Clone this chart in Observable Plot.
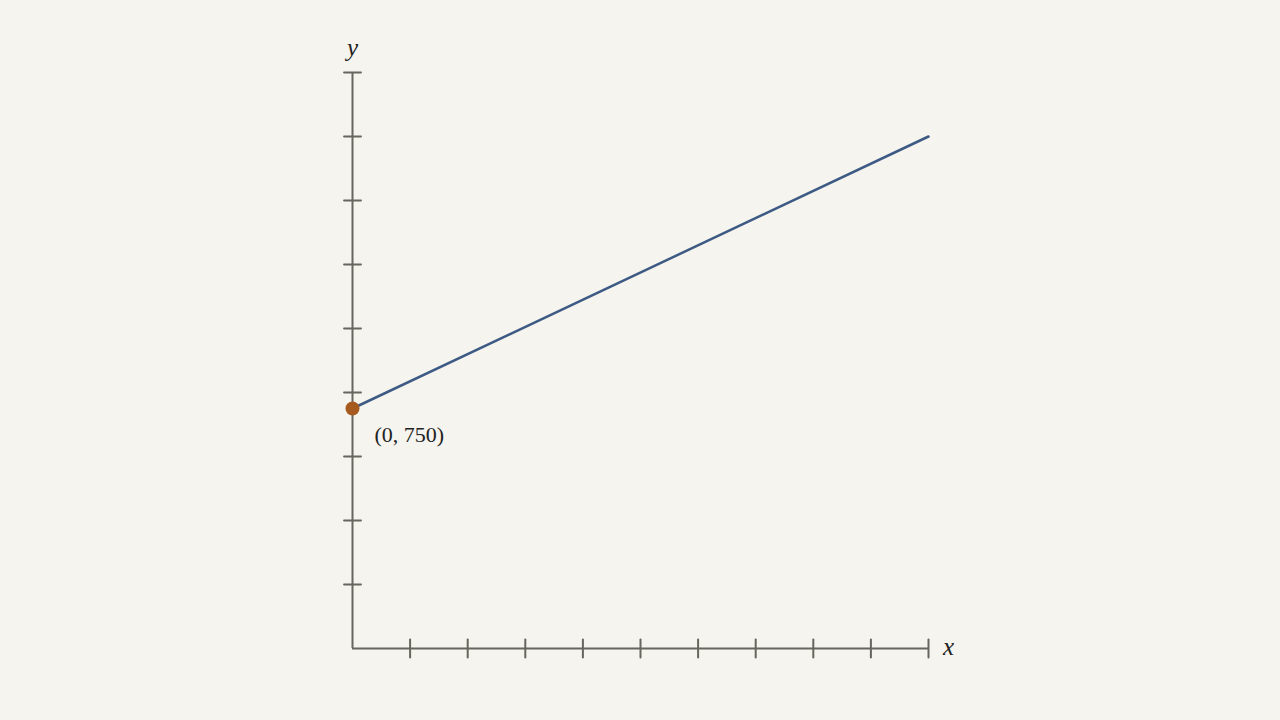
<!DOCTYPE html>
<html>
<head>
<meta charset="utf-8">
<script src="https://cdn.jsdelivr.net/npm/d3@7"></script>
<script src="https://cdn.jsdelivr.net/npm/@observablehq/plot@0.6"></script>
<style>
  html, body { margin: 0; padding: 0; background: #f5f4ee; }
  #chart svg { display: block; }
  #chart svg text.pt-label { letter-spacing: 0.5px; }
</style>
</head>
<body>
<div id="chart"></div>
<script>
const xTicks = [1, 2, 3, 4, 5, 6, 7, 8, 9, 10];
const yTicks = [200, 400, 600, 800, 1000, 1200, 1400, 1600, 1800];
const linePoints = [{x: 0, y: 750}, {x: 10, y: 1600}];
const intercept = [{x: 0, y: 750, label: "(0, 750)"}];
const xDomain = [0, 10];
const yDomain = [0, 1800];

const axisColor = "#66665f";
const tickShape = {
  draw(context, l) { context.moveTo(0, 0); context.lineTo(0, -l); }
};
const font = "'Liberation Serif', 'DejaVu Serif', serif";

const chart = Plot.plot({
  width: 1280,
  height: 720,
  marginLeft: 352,
  marginRight: 352,
  marginTop: 72,
  marginBottom: 72,
  style: {background: "#f5f4ee", fontFamily: font},
  x: {domain: xDomain, axis: null},
  y: {domain: yDomain, axis: null},
  marks: [
    Plot.ruleY([0], {x1: xDomain[0], x2: xDomain[1], stroke: axisColor, strokeWidth: 2}),
    Plot.ruleX([0], {y1: yDomain[0], y2: yDomain[1], stroke: axisColor, strokeWidth: 2}),
    Plot.vector(xTicks, {x: d => d, y: 0, length: 18, rotate: 0, anchor: "middle", shape: tickShape, stroke: axisColor, strokeWidth: 2}),
    Plot.vector(yTicks, {x: 0, y: d => d, length: 17, rotate: 90, anchor: "middle", shape: tickShape, stroke: axisColor, strokeWidth: 1.8}),
    Plot.line(linePoints, {x: "x", y: "y", stroke: "#3d5a85", strokeWidth: 2.5}),
    Plot.dot(intercept, {x: "x", y: "y", r: 7, fill: "#a65a20", stroke: "none"}),
    Plot.text(intercept, {x: "x", y: "y", text: "label", dx: 22, dy: 26, textAnchor: "start", fontSize: 22, fill: "#222", className: "pt-label"}),
    Plot.text(["y"], {x: 0, y: yDomain[1], text: d => d, dy: -25, fontSize: 25, fontStyle: "italic", fill: "#222"}),
    Plot.text(["x"], {x: xDomain[1], y: 0, text: d => d, dx: 20, dy: -2, fontSize: 25, fontStyle: "italic", fill: "#222"})
  ]
});
document.getElementById("chart").append(chart);
</script>
</body>
</html>
